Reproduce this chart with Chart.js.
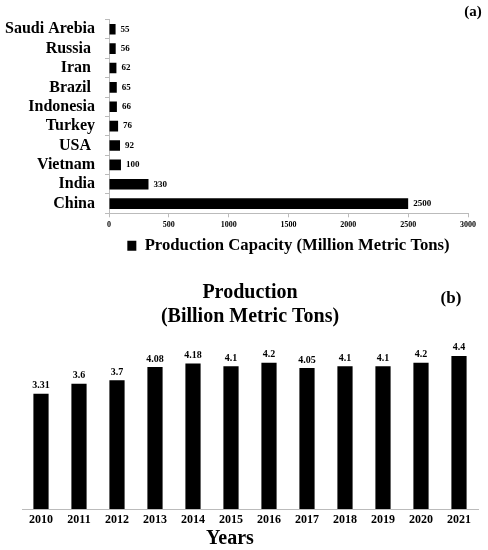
<!DOCTYPE html>
<html>
<head>
<meta charset="utf-8">
<script src="https://cdn.jsdelivr.net/npm/chart.js@4.4.1/dist/chart.umd.min.js"></script>
<style>
  html, body { margin:0; padding:0; background:#fff; }
  body { width:488px; height:550px; position:relative; overflow:hidden; }
  #box1 { position:absolute; left:0; top:0; width:488px; height:264px; }
  #box2 { position:absolute; left:0; top:270px; width:488px; height:280px; }
</style>
</head>
<body>
<div id="box1"><canvas id="c1"></canvas></div>
<div id="box2"><canvas id="c2"></canvas></div>
<script>
// ---- data: chart (a) ----
const countries = ['Saudi Arebia', 'Russia ', 'Iran ', 'Brazil ', 'Indonesia', 'Turkey', 'USA ', 'Vietnam', 'India', 'China'];
const capacity = [55, 56, 62, 65, 66, 76, 92, 100, 330, 2500];
const capacityLabel = 'Production Capacity (Million Metric Tons)';
const capacityTicks = [0, 500, 1000, 1500, 2000, 2500, 3000];

// ---- data: chart (b) ----
const years = ['2010', '2011', '2012', '2013', '2014', '2015', '2016', '2017', '2018', '2019', '2020', '2021'];
const production = [3.31, 3.6, 3.7, 4.08, 4.18, 4.1, 4.2, 4.05, 4.1, 4.1, 4.2, 4.4];
const productionTitle = ['Production', '(Billion Metric Tons)'];
const xTitle = 'Years';

const SERIF = "'Liberation Serif', 'Times New Roman', 'DejaVu Serif', serif";

const hBarLabels = {
  id: 'hBarLabels',
  afterDatasetsDraw(chart) {
    const ctx = chart.ctx;
    const meta = chart.getDatasetMeta(0);
    ctx.save();
    ctx.font = 'bold 9px ' + SERIF;
    ctx.fillStyle = '#000';
    ctx.textAlign = 'left';
    ctx.textBaseline = 'middle';
    meta.data.forEach((bar, i) => {
      ctx.fillText(String(chart.data.datasets[0].data[i]), bar.x + 5, bar.y);
    });
    ctx.font = 'bold 15px ' + SERIF;
    ctx.textAlign = 'center';
    ctx.fillText('(a)', 473, 12);
    ctx.restore();
  }
};

const vBarLabels = {
  id: 'vBarLabels',
  afterDatasetsDraw(chart) {
    const ctx = chart.ctx;
    const meta = chart.getDatasetMeta(0);
    ctx.save();
    ctx.font = 'bold 10px ' + SERIF;
    ctx.fillStyle = '#000';
    ctx.textAlign = 'center';
    ctx.textBaseline = 'bottom';
    meta.data.forEach((bar, i) => {
      ctx.fillText(String(chart.data.datasets[0].data[i]), bar.x, bar.y - 3);
    });
    ctx.font = 'bold 17px ' + SERIF;
    ctx.textBaseline = 'middle';
    ctx.fillText('(b)', 451, 29);
    ctx.font = 'bold 20px ' + SERIF;
    const ca = chart.chartArea;
    ctx.fillText(xTitle, (ca.left + ca.right) / 2 - 20, 269);
    ctx.restore();
  }
};

new Chart(document.getElementById('c1'), {
  type: 'bar',
  data: {
    labels: countries,
    datasets: [{
      label: capacityLabel,
      data: capacity,
      backgroundColor: '#000',
      borderColor: '#000',
      barPercentage: 0.55,
      categoryPercentage: 1
    }]
  },
  options: {
    indexAxis: 'y',
    responsive: true,
    maintainAspectRatio: false,
    animation: false,
    layout: { padding: { top: 13, right: 20, left: 0, bottom: 0 } },
    scales: {
      x: {
        min: capacityTicks[0],
        max: capacityTicks[capacityTicks.length - 1],
        afterBuildTicks(s) { s.ticks = capacityTicks.map(v => ({ value: v })); },
        ticks: {
          font: { family: SERIF, size: 8, weight: 'bold' }, color: '#000', padding: 3, maxRotation: 0,
          autoSkip: false,
          callback: (v) => String(v)
        },
        grid: { drawOnChartArea: false, drawTicks: true, tickLength: 4, color: '#bbb' },
        border: { color: '#bbb' },
        afterFit(s) { s.height = 20; }
      },
      y: {
        ticks: { font: { family: SERIF, size: 16, weight: 'bold' }, color: '#000', padding: 10, autoSkip: false },
        grid: { drawOnChartArea: false, drawTicks: true, tickLength: 4, color: '#bbb', offset: true },
        border: { color: '#bbb' },
        afterFit(s) { s.width = 109; }
      }
    },
    plugins: {
      legend: {
        position: 'bottom',
        fullSize: false,
        labels: {
          boxWidth: 9,
          boxHeight: 10,
          padding: 4,
          color: '#000',
          font: { family: SERIF, size: 16.7, weight: 'bold' }
        }
      },
      tooltip: { enabled: false }
    }
  },
  plugins: [hBarLabels]
});

new Chart(document.getElementById('c2'), {
  type: 'bar',
  data: {
    labels: years,
    datasets: [{
      label: 'Production',
      data: production,
      backgroundColor: '#000',
      borderColor: '#000',
      barPercentage: 0.4,
      categoryPercentage: 1
    }]
  },
  options: {
    responsive: true,
    maintainAspectRatio: false,
    animation: false,
    layout: { padding: { top: 0, right: 10, left: 22, bottom: 0 } },
    scales: {
      x: {
        ticks: { font: { family: SERIF, size: 12, weight: 'bold' }, color: '#000', padding: 4, maxRotation: 0, autoSkip: false },
        grid: { drawOnChartArea: false, drawTicks: false, color: '#bbb' },
        border: { color: '#bbb' },
        afterFit(s) { s.height = 41; }
      },
      y: { display: false, min: 0, max: 5 }
    },
    plugins: {
      legend: { display: false },
      tooltip: { enabled: false },
      title: {
        display: true,
        fullSize: false,
        text: productionTitle,
        color: '#000',
        font: { family: SERIF, size: 20, weight: 'bold', lineHeight: 1.2 },
        padding: { top: 11, bottom: 6 }
      }
    }
  },
  plugins: [vBarLabels]
});
</script>
</body>
</html>
